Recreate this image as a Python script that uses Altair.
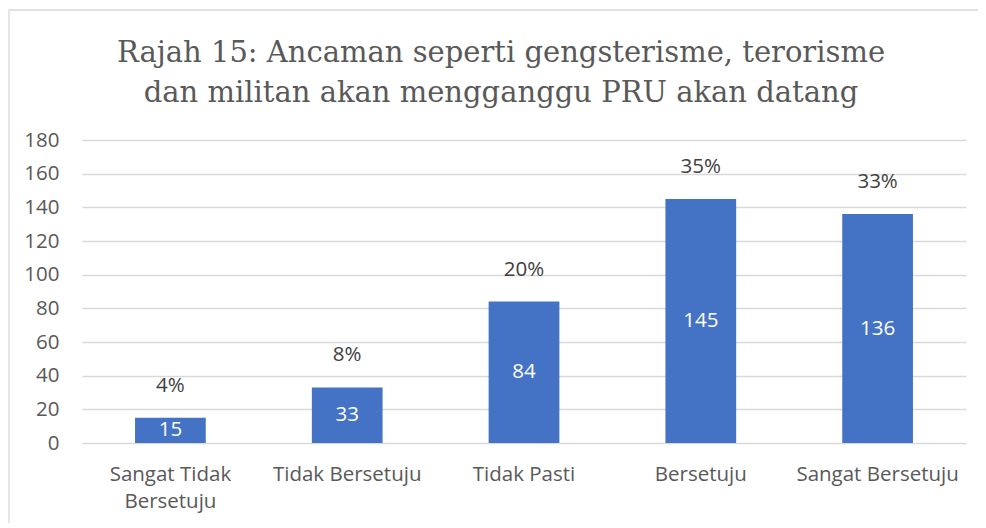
import altair as alt
import pandas as pd

categories = ["Sangat Tidak Bersetuju", "Tidak Bersetuju", "Tidak Pasti", "Bersetuju", "Sangat Bersetuju"]
counts = [15, 33, 84, 145, 136]
percents = ["4%", "8%", "20%", "35%", "33%"]
title_lines = ["Rajah 15: Ancaman seperti gengsterisme, terorisme",
               "dan militan akan mengganggu PRU akan datang"]
y_ticks = [0, 20, 40, 60, 80, 100, 120, 140, 160, 180]

df = pd.DataFrame({"cat": categories, "n": counts, "pct": percents})

LABEL_FONT = "Open Sans"
FS = 20.5

x_axis = alt.Axis(labelAngle=0, labelFontSize=FS, labelColor="#595959",
                  labelFont=LABEL_FONT, ticks=False, domain=False, grid=False,
                  labelPadding=21, labelLineHeight=27,
                  labelExpr="datum.value == 'Sangat Tidak Bersetuju' ? ['Sangat Tidak', 'Bersetuju'] : datum.value")
y_axis = alt.Axis(values=y_ticks, labelFontSize=FS, labelColor="#595959",
                  labelFont=LABEL_FONT, ticks=False, domain=False, labelPadding=23,
                  labelOverlap=False, grid=True,
                  gridColor="#d9d9d9", gridWidth=1.3)
x_scale = alt.Scale(paddingInner=0.6, paddingOuter=0.3)
y_scale = alt.Scale(domain=[0, 180], nice=False)

base = alt.Chart(df)

bars = base.mark_bar(color="#4472C4").encode(
    x=alt.X("cat:N", sort=categories, title=None, scale=x_scale, axis=x_axis),
    y=alt.Y("n:Q", title=None, scale=y_scale, axis=y_axis))

inside = base.transform_calculate(half="datum.n / 2").mark_text(
    color="white", fontSize=FS, font=LABEL_FONT, baseline="middle"
).encode(x=alt.X("cat:N", sort=categories, title=None, scale=x_scale, axis=x_axis),
         y=alt.Y("half:Q", title=None, scale=y_scale, axis=y_axis), text="n:Q")

above = base.mark_text(
    color="#404040", fontSize=FS, font=LABEL_FONT, baseline="middle", dy=-32
).encode(x=alt.X("cat:N", sort=categories, title=None, scale=x_scale, axis=x_axis),
         y=alt.Y("n:Q", title=None, scale=y_scale, axis=y_axis), text="pct:N")

deco = alt.Chart(pd.DataFrame({"a": [0]}))

border = deco.mark_rect(
    fill=None, stroke="#d9d9d9", strokeWidth=1.3, clip=False
).encode(x=alt.value(-73), x2=alt.value(940), y=alt.value(-130), y2=alt.value(440))

title = deco.mark_text(
    font="DejaVu Serif", fontSize=29, color="#595959", align="center",
    baseline="alphabetic", lineHeight=40, text=title_lines
).encode(x=alt.value(419), y=alt.value(-78))

chart = alt.layer(bars, inside, above, border, title).properties(
    width=884, height=303,
    autosize=alt.AutoSizeParams(type="none"),
    padding={"left": 74, "top": 132, "right": 12, "bottom": 80},
).configure_view(stroke=None)

chart.save("out.html", embed_options={"renderer": "svg", "actions": False})
